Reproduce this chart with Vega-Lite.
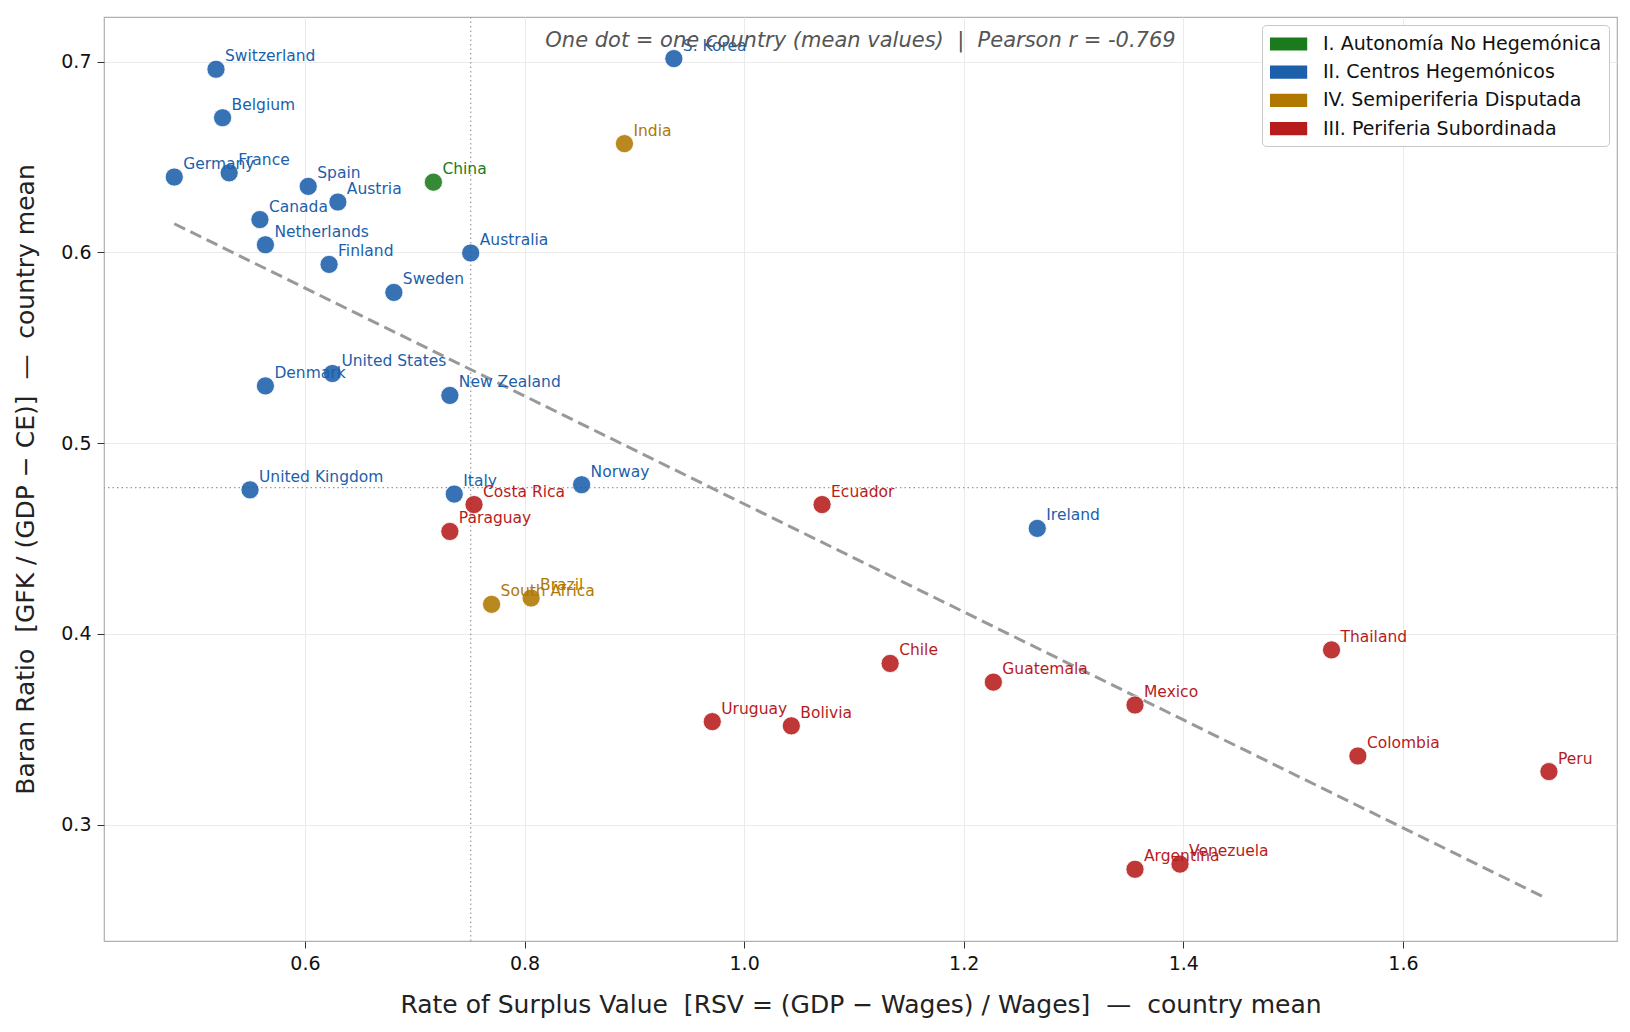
{
  "$schema": "https://vega.github.io/schema/vega-lite/v6.json",
  "width": 1513,
  "height": 924,
  "autosize": "none",
  "padding": {"left": 104, "top": 17, "right": 13, "bottom": 91},
  "background": "white",
  "config": {
    "font": "DejaVu Sans",
    "view": {"stroke": "#b0b0b0", "strokeWidth": 1.2},
    "axis": {
      "domain": false,
      "grid": true,
      "gridColor": "#ebebeb",
      "gridWidth": 1,
      "tickColor": "#333",
      "tickSize": 7,
      "labelFont": "DejaVu Sans",
      "labelFontSize": 19,
      "labelColor": "#111",
      "titleFont": "DejaVu Sans",
      "titleFontSize": 25,
      "titleFontWeight": "normal",
      "titleColor": "#222"
    }
  },
  "title": {
    "text": "One dot = one country (mean values) \u00a0| \u00a0Pearson r = -0.769",
    "anchor": "middle",
    "frame": "group",
    "orient": "top",
    "offset": 0,
    "baseline": "middle",
    "dy": 46,
    "font": "DejaVu Sans",
    "fontStyle": "italic",
    "fontWeight": "normal",
    "fontSize": 21,
    "color": "#555"
  },
  "datasets": {
    "countries": [
      {"country": "Switzerland", "rsv": 0.519, "baran": 0.696, "group": "II. Centros Hegemónicos"},
      {"country": "Belgium", "rsv": 0.525, "baran": 0.6706, "group": "II. Centros Hegemónicos"},
      {"country": "Germany", "rsv": 0.481, "baran": 0.6395, "group": "II. Centros Hegemónicos"},
      {"country": "France", "rsv": 0.531, "baran": 0.6417, "group": "II. Centros Hegemónicos"},
      {"country": "Spain", "rsv": 0.603, "baran": 0.6346, "group": "II. Centros Hegemónicos"},
      {"country": "Austria", "rsv": 0.63, "baran": 0.6264, "group": "II. Centros Hegemónicos"},
      {"country": "Canada", "rsv": 0.559, "baran": 0.6172, "group": "II. Centros Hegemónicos"},
      {"country": "Netherlands", "rsv": 0.564, "baran": 0.604, "group": "II. Centros Hegemónicos"},
      {"country": "Finland", "rsv": 0.622, "baran": 0.5937, "group": "II. Centros Hegemónicos"},
      {"country": "Sweden", "rsv": 0.681, "baran": 0.579, "group": "II. Centros Hegemónicos"},
      {"country": "Australia", "rsv": 0.751, "baran": 0.5997, "group": "II. Centros Hegemónicos"},
      {"country": "China", "rsv": 0.717, "baran": 0.6368, "group": "I. Autonomía No Hegemónica"},
      {"country": "India", "rsv": 0.891, "baran": 0.657, "group": "IV. Semiperiferia Disputada"},
      {"country": "S. Korea", "rsv": 0.936, "baran": 0.7016, "group": "II. Centros Hegemónicos"},
      {"country": "United States", "rsv": 0.625, "baran": 0.5365, "group": "II. Centros Hegemónicos"},
      {"country": "Denmark", "rsv": 0.564, "baran": 0.53, "group": "II. Centros Hegemónicos"},
      {"country": "New Zealand", "rsv": 0.732, "baran": 0.525, "group": "II. Centros Hegemónicos"},
      {"country": "United Kingdom", "rsv": 0.55, "baran": 0.4755, "group": "II. Centros Hegemónicos"},
      {"country": "Italy", "rsv": 0.736, "baran": 0.4733, "group": "II. Centros Hegemónicos"},
      {"country": "Costa Rica", "rsv": 0.754, "baran": 0.4678, "group": "III. Periferia Subordinada"},
      {"country": "Paraguay", "rsv": 0.732, "baran": 0.4537, "group": "III. Periferia Subordinada"},
      {"country": "Norway", "rsv": 0.852, "baran": 0.4782, "group": "II. Centros Hegemónicos"},
      {"country": "Ecuador", "rsv": 1.071, "baran": 0.4678, "group": "III. Periferia Subordinada"},
      {"country": "Ireland", "rsv": 1.267, "baran": 0.4553, "group": "II. Centros Hegemónicos"},
      {"country": "South Africa", "rsv": 0.77, "baran": 0.4155, "group": "IV. Semiperiferia Disputada"},
      {"country": "Brazil", "rsv": 0.806, "baran": 0.4188, "group": "IV. Semiperiferia Disputada"},
      {"country": "Chile", "rsv": 1.133, "baran": 0.3845, "group": "III. Periferia Subordinada"},
      {"country": "Guatemala", "rsv": 1.227, "baran": 0.3747, "group": "III. Periferia Subordinada"},
      {"country": "Mexico", "rsv": 1.356, "baran": 0.3627, "group": "III. Periferia Subordinada"},
      {"country": "Thailand", "rsv": 1.535, "baran": 0.3916, "group": "III. Periferia Subordinada"},
      {"country": "Uruguay", "rsv": 0.971, "baran": 0.354, "group": "III. Periferia Subordinada"},
      {"country": "Bolivia", "rsv": 1.043, "baran": 0.3518, "group": "III. Periferia Subordinada"},
      {"country": "Colombia", "rsv": 1.559, "baran": 0.336, "group": "III. Periferia Subordinada"},
      {"country": "Peru", "rsv": 1.733, "baran": 0.3278, "group": "III. Periferia Subordinada"},
      {"country": "Argentina", "rsv": 1.356, "baran": 0.2766, "group": "III. Periferia Subordinada"},
      {"country": "Venezuela", "rsv": 1.397, "baran": 0.2793, "group": "III. Periferia Subordinada"}
    ]
  },
  "layer": [
    {
      "data": {"values": [{"mean_rsv": 0.751}]},
      "mark": {"type": "rule", "color": "#999", "strokeWidth": 1.2, "strokeDash": [1.5, 3]},
      "encoding": {
        "x": {"field": "mean_rsv", "type": "quantitative"}
      }
    },
    {
      "data": {"values": [{"mean_baran": 0.4767}]},
      "mark": {"type": "rule", "color": "#999", "strokeWidth": 1.2, "strokeDash": [1.5, 3]},
      "encoding": {
        "y": {"field": "mean_baran", "type": "quantitative"}
      }
    },
    {
      "data": {"values": [{"x1": 0.481, "y1": 0.615, "x2": 1.727, "y2": 0.2624}]},
      "mark": {"type": "rule", "color": "#999", "strokeWidth": 3, "strokeDash": [12, 6]},
      "encoding": {
        "x": {"field": "x1", "type": "quantitative"},
        "y": {"field": "y1", "type": "quantitative"},
        "x2": {"field": "x2"},
        "y2": {"field": "y2"}
      }
    },
    {
      "data": {"name": "countries"},
      "mark": {"type": "point", "filled": true, "size": 330, "opacity": 0.88, "stroke": "white", "strokeWidth": 0.8},
      "encoding": {
        "x": {
          "field": "rsv",
          "type": "quantitative",
          "scale": {"domain": [0.417, 1.795], "zero": false, "nice": false},
          "axis": {
            "values": [0.6, 0.8, 1.0, 1.2, 1.4, 1.6],
            "format": ".1f",
            "labelPadding": 6,
            "title": "Rate of Surplus Value \u00a0[RSV = (GDP − Wages) / Wages] \u00a0— \u00a0country mean",
            "titlePadding": 19
          }
        },
        "y": {
          "field": "baran",
          "type": "quantitative",
          "scale": {"domain": [0.239, 0.7234], "zero": false, "nice": false},
          "axis": {
            "values": [0.3, 0.4, 0.5, 0.6, 0.7],
            "format": ".1f",
            "labelPadding": 6,
            "title": "Baran Ratio \u00a0[GFK / (GDP − CE)] \u00a0— \u00a0country mean",
            "titlePadding": 22
          }
        },
        "color": {
          "field": "group",
          "type": "nominal",
          "scale": {
            "domain": ["I. Autonomía No Hegemónica", "II. Centros Hegemónicos", "IV. Semiperiferia Disputada", "III. Periferia Subordinada"],
            "range": ["#1b7a1b", "#1c5fab", "#b07800", "#b71c1c"]
          },
          "legend": {
            "title": null,
            "orient": "top-right",
            "offset": 8,
            "padding": 7,
            "rowPadding": 6.2,
            "strokeColor": "#c8c8c8",
            "fillColor": "white",
            "cornerRadius": 4,
            "symbolType": "M-1,-0.55H2.1V0.55H-1Z",
            "symbolSize": 576,
            "symbolOpacity": 1,
            "symbolStrokeWidth": 0,
            "symbolOffset": 1,
            "labelOffset": 29,
            "labelFont": "DejaVu Sans",
            "labelFontSize": 19,
            "labelColor": "#111",
            "labelLimit": 400
          }
        }
      }
    },
    {
      "data": {"name": "countries"},
      "mark": {"type": "text", "align": "left", "baseline": "alphabetic", "dx": 9, "dy": -8, "fontSize": 15.5, "font": "DejaVu Sans"},
      "encoding": {
        "x": {"field": "rsv", "type": "quantitative"},
        "y": {"field": "baran", "type": "quantitative"},
        "text": {"field": "country"},
        "color": {"field": "group", "type": "nominal", "legend": null}
      }
    }
  ]
}
